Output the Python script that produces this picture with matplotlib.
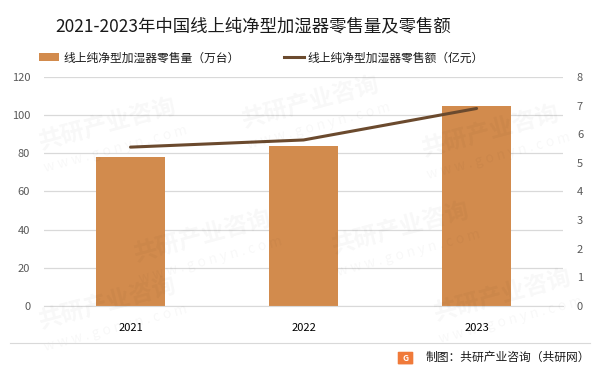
import matplotlib
matplotlib.use('Agg')
import matplotlib.pyplot as plt
from matplotlib.patches import Patch, FancyBboxPatch
from matplotlib.lines import Line2D

plt.rcParams['font.family'] = ['Noto Sans CJK SC', 'DejaVu Sans']

# datos
anios = ['2021', '2022', '2023']
volumen = [78.2, 84.0, 105.0]     # 万台
ventas = [5.55, 5.8, 6.9]         # 亿元
etiqueta_vol = '线上纯净型加湿器零售量（万台）'
etiqueta_ven = '线上纯净型加湿器零售额（亿元）'
titulo = '2021-2023年中国线上纯净型加湿器零售量及零售额'
fuente = '制图：共研产业咨询（共研网）'

color_barra = '#D28B4D'
color_linea = '#6B4A2E'

fig = plt.figure(figsize=(5.99, 3.73), dpi=100)
ax = fig.add_axes([0.0735, 0.1796, 0.8665, 0.614])
ax2 = ax.twinx()

# marcas de agua (tenues, dentro de la figura)
for (x, y) in [(0.06, 0.60), (0.40, 0.66), (0.70, 0.58), (0.22, 0.30),
               (0.55, 0.32), (0.06, 0.12), (0.72, 0.14)]:
    fig.text(x, y, '共研产业咨询', fontsize=17, fontweight='bold', color='#000000',
             alpha=0.03, rotation=15, zorder=0)
    fig.text(x + 0.01, y - 0.06, 'w w w . g o n y n . c o m', fontsize=10, color='#000000',
             alpha=0.03, rotation=15, zorder=0)

xs = range(len(anios))
ax.bar(xs, volumen, width=0.4, color=color_barra, zorder=2)
ax2.plot(xs, ventas, color=color_linea, linewidth=2.2, solid_capstyle='round', zorder=3)

ax.set_xlim(-0.5, 2.5)
ax.set_ylim(0, 120)
ax.set_yticks(range(0, 121, 20))
ax2.set_ylim(0, 8)
ax2.set_yticks(range(0, 9))

ax.yaxis.grid(True, color='#D9D9D9', linewidth=0.9, zorder=0)
ax.set_axisbelow(True)

for a in (ax, ax2):
    for s in a.spines.values():
        s.set_visible(False)
ax.spines['bottom'].set_visible(True)
ax.spines['bottom'].set_color('#D9D9D9')

ax.set_xticks(list(xs))
ax.set_xticklabels(anios)
ax.tick_params(axis='x', length=0, pad=12, labelsize=8, labelcolor='#000000')
ax.tick_params(axis='y', length=0, pad=10, labelsize=8, labelcolor='#595959')
ax2.tick_params(axis='y', length=0, pad=10, labelsize=8, labelcolor='#595959')

fig.text(0.423, 0.93, titulo, fontsize=12.5, color='#1a1a1a', ha='center', va='center')

manejadores = [Patch(facecolor=color_barra, edgecolor='none'),
               Line2D([0], [0], color=color_linea, linewidth=2.2)]
fig.legend(manejadores, [etiqueta_vol, etiqueta_ven], loc='center left',
           bbox_to_anchor=(0.048, 0.845), ncol=2, frameon=False, fontsize=8.5,
           handlelength=1.7, handleheight=0.6, handletextpad=0.3, columnspacing=3.8,
           labelcolor='#1a1a1a')

# pie
fig.add_artist(Line2D([0.017, 0.985], [0.081, 0.081], color='#D9D9D9', linewidth=0.8))
fig.add_artist(FancyBboxPatch((0.666, 0.025), 0.022, 0.03, boxstyle='round,pad=0.002',
                              facecolor='#F07A3A', edgecolor='none', transform=fig.transFigure))
fig.text(0.677, 0.04, 'G', fontsize=6, fontweight='bold', color='white', ha='center', va='center')
fig.text(0.985, 0.042, fuente, fontsize=8.5, color='#1a1a1a', ha='right', va='center')

fig.savefig('out.png', dpi=100)
